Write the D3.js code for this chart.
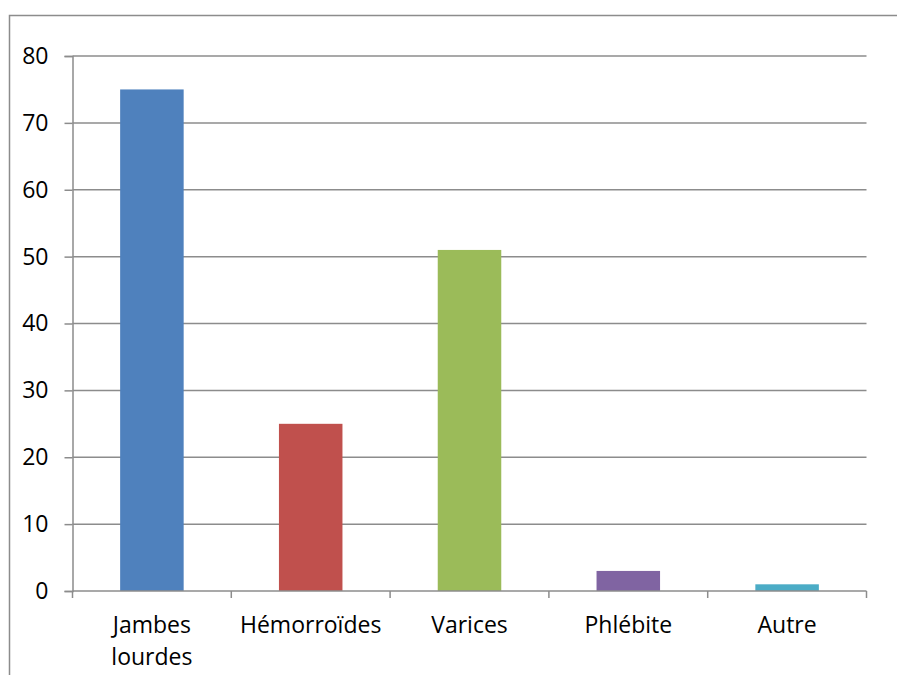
<!DOCTYPE html>
<html lang="fr">
<head>
  <meta charset="UTF-8">
  <title>chart</title>
  <script src="https://d3js.org/d3.v7.min.js"></script>
  <style>
    body { margin: 0; background: #fff; }
    text { font-family: "Open Sans", sans-serif; fill: #000; }
  </style>
</head>
<body>
  <svg id="chart" width="897" height="675"></svg>
  <script>
    // data
    const categories = [["Jambes", "lourdes"], ["Hémorroïdes"], ["Varices"], ["Phlébite"], ["Autre"]];
    const values = [75, 25, 51, 3, 1];
    const colors = ["#4F81BD", "#C0504D", "#9BBB59", "#8064A2", "#4BACC6"];
    const yTicks = [0, 10, 20, 30, 40, 50, 60, 70, 80];

    const svg = d3.select("svg#chart");
    const plotLeft = 72.5, plotRight = 866.5, plotTop = 56, plotBottom = 591;

    // outer frame (runs off the right and bottom edges)
    svg.append("rect")
      .attr("x", 9.5).attr("y", 15.5)
      .attr("width", 900).attr("height", 700)
      .attr("fill", "none").attr("stroke", "#8c8c8c").attr("stroke-width", 1.5);

    const x = d3.scaleBand()
      .domain(d3.range(categories.length))
      .range([plotLeft, plotRight])
      .paddingInner(0).paddingOuter(0);

    const y = d3.scaleLinear().domain([0, 80]).range([plotBottom, plotTop]);

    // gridlines
    svg.append("g")
      .selectAll("line").data(yTicks.filter(d => d > 0))
      .join("line")
      .attr("x1", plotLeft).attr("x2", plotRight)
      .attr("y1", d => y(d)).attr("y2", d => y(d))
      .attr("stroke", "#8c8c8c").attr("stroke-width", 1.5);

    // bars, 150% gap width
    const bw = x.bandwidth() / 2.5;
    svg.append("g")
      .selectAll("rect").data(values)
      .join("rect")
      .attr("x", (d, i) => x(i) + x.bandwidth() / 2 - bw / 2)
      .attr("y", d => y(d))
      .attr("width", bw)
      .attr("height", d => y(0) - y(d))
      .attr("fill", (d, i) => colors[i]);

    // y axis
    const yAxis = svg.append("g")
      .attr("transform", `translate(${plotLeft},0)`)
      .call(d3.axisLeft(y).tickValues(yTicks).tickSize(8).tickPadding(16));
    yAxis.select(".domain").attr("stroke", "#8c8c8c").attr("stroke-width", 1.5);
    yAxis.selectAll(".tick line").attr("stroke", "#8c8c8c").attr("stroke-width", 1.5);
    yAxis.selectAll(".tick text")
      .attr("font-size", 23).attr("font-family", "Open Sans").attr("fill", "#000");

    // x axis line and ticks between categories
    const xAxis = svg.append("g");
    xAxis.append("line")
      .attr("x1", plotLeft).attr("x2", plotRight)
      .attr("y1", plotBottom).attr("y2", plotBottom)
      .attr("stroke", "#8c8c8c").attr("stroke-width", 1.5);
    const bounds = d3.range(categories.length).map(i => x(i)).concat([plotRight]);
    xAxis.selectAll("line.tk").data(bounds)
      .join("line").attr("class", "tk")
      .attr("x1", d => d).attr("x2", d => d)
      .attr("y1", plotBottom).attr("y2", plotBottom + 7)
      .attr("stroke", "#8c8c8c").attr("stroke-width", 1.5);

    // category labels
    xAxis.selectAll("text").data(categories)
      .join("text")
      .attr("x", (d, i) => x(i) + x.bandwidth() / 2)
      .attr("y", 633)
      .attr("text-anchor", "middle")
      .attr("font-size", 23)
      .each(function (d) {
        const cx = d3.select(this).attr("x");
        d3.select(this).selectAll("tspan").data(d)
          .join("tspan")
          .attr("x", cx)
          .attr("dy", (t, j) => j === 0 ? 0 : 32)
          .text(t => t);
      });
  </script>
</body>
</html>
